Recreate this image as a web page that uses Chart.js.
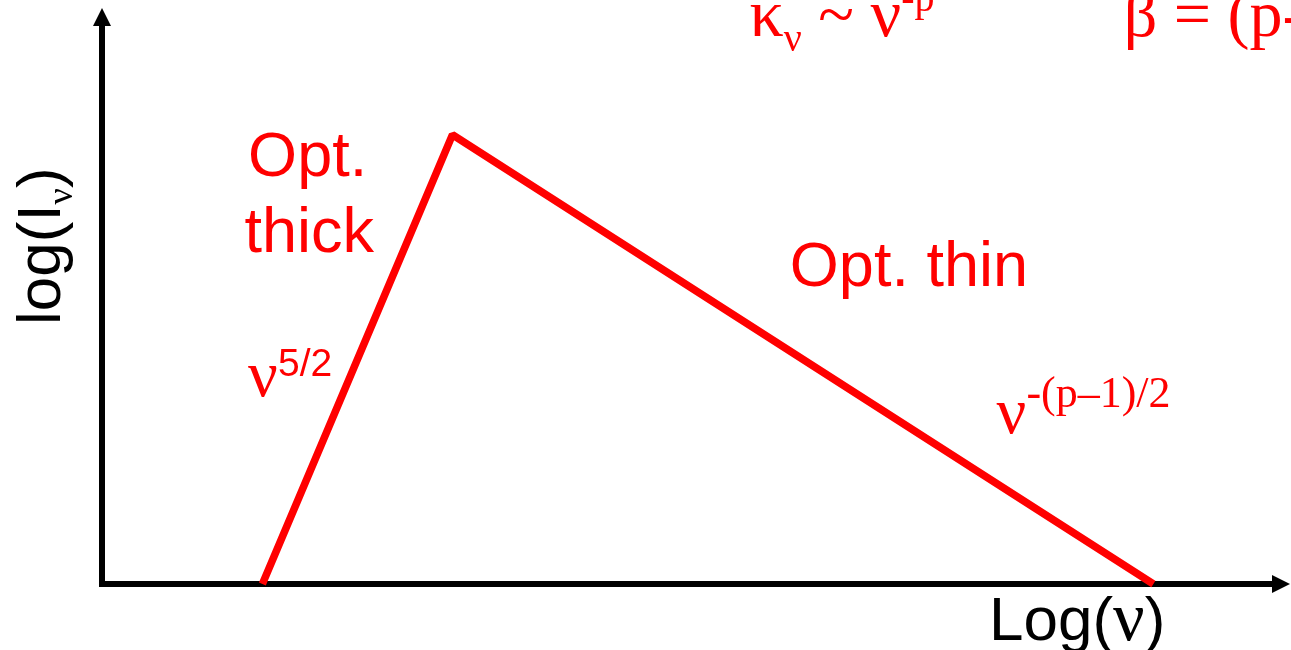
<!DOCTYPE html>
<html>
<head>
<meta charset="utf-8">
<script src="https://cdn.jsdelivr.net/npm/chart.js@4.4.0/dist/chart.umd.min.js"></script>
<style>
  html, body { margin: 0; padding: 0; background: #fff; overflow: hidden; }
</style>
</head>
<body>
<canvas id="c" width="1291" height="650"></canvas>
<script>
// broken power-law spectrum, arbitrary log units (0..100 on both axes)
const logNu = [13.5, 29.5, 88.5];
const logI = [0, 78, 0];

const SANS = '"Liberation Sans", Arial, sans-serif';
const SERIF = '"Liberation Serif", "Times New Roman", serif';
const RED = '#ff0000';

// text labels, anchored in data coordinates
const notes = [
  { x: 12.3, y: 70.8, runs: [{ t: 'Opt.', font: '63px ' + SANS }] },
  { x: 12.0, y: 57.6, runs: [{ t: 'thick', font: '63px ' + SANS }] },
  { x: 12.3, y: 32.6, runs: [{ t: 'ν', font: '66px ' + SERIF }, { t: '5/2', font: '39px ' + SANS, dy: -20 }] },
  { x: 57.9, y: 51.7, runs: [{ t: 'Opt. thin', font: '63px ' + SANS }] },
  { x: 75.3, y: 26.2, runs: [{ t: 'ν', font: '66px ' + SERIF }, { t: '-(p–1)/2', font: '44px ' + SERIF, dy: -26 }] },
  { x: 54.5, y: 95.1, runs: [
    { t: 'κ', font: '68px ' + SERIF },
    { t: 'ν', font: '40px ' + SERIF, dy: 15 },
    { t: ' ~ ', font: '66px ' + SERIF },
    { t: 'ν', font: '68px ' + SERIF },
    { t: '-p', font: '40px ' + SERIF, dy: -25 }
  ] },
  { x: 86.0, y: 95.1, runs: [{ t: 'β = (p-', font: '66px ' + SERIF }] }
];

function drawRuns(ctx, x, y, runs) {
  runs.forEach(r => {
    ctx.font = r.font;
    ctx.fillText(r.t, x, y + (r.dy || 0));
    x += ctx.measureText(r.t).width;
  });
}

const sketchPlugin = {
  id: 'sketch',
  beforeDatasetsDraw(chart) {
    const { ctx, chartArea: a } = chart;
    ctx.save();
    ctx.strokeStyle = '#000';
    ctx.fillStyle = '#000';
    ctx.lineWidth = 6;
    ctx.beginPath();
    ctx.moveTo(a.left, a.bottom + 3);
    ctx.lineTo(a.left, a.top + 16);
    ctx.moveTo(a.left - 3, a.bottom);
    ctx.lineTo(a.right - 16, a.bottom);
    ctx.stroke();
    // arrow heads
    ctx.beginPath();
    ctx.moveTo(a.left, a.top);
    ctx.lineTo(a.left - 9, a.top + 18);
    ctx.lineTo(a.left + 9, a.top + 18);
    ctx.closePath();
    ctx.fill();
    ctx.beginPath();
    ctx.moveTo(a.right, a.bottom);
    ctx.lineTo(a.right - 18, a.bottom - 9);
    ctx.lineTo(a.right - 18, a.bottom + 9);
    ctx.closePath();
    ctx.fill();

    // axis titles
    ctx.textBaseline = 'alphabetic';
    drawRuns(ctx, a.left + 887, a.bottom + 56, [
      { t: 'Log(', font: '62px ' + SANS },
      { t: 'ν', font: '70px ' + SERIF },
      { t: ')', font: '62px ' + SANS }
    ]);
    ctx.translate(a.left - 42, 325);
    ctx.rotate(-Math.PI / 2);
    drawRuns(ctx, 0, 0, [
      { t: 'log(I', font: '62px ' + SANS },
      { t: 'ν', font: '36px ' + SERIF, dy: 12 },
      { t: ')', font: '62px ' + SANS }
    ]);
    ctx.restore();
  },
  afterDatasetsDraw(chart) {
    const { ctx, scales } = chart;
    ctx.save();
    ctx.fillStyle = RED;
    ctx.textBaseline = 'alphabetic';
    notes.forEach(n => {
      drawRuns(ctx, scales.x.getPixelForValue(n.x), scales.y.getPixelForValue(n.y), n.runs);
    });
    ctx.restore();
  }
};

new Chart(document.getElementById('c'), {
  type: 'line',
  data: {
    datasets: [{
      data: logNu.map((v, i) => ({ x: v, y: logI[i] })),
      borderColor: RED,
      borderWidth: 7.5,
      borderJoinStyle: 'bevel',
      borderCapStyle: 'butt',
      pointRadius: 0,
      tension: 0,
      fill: false,
      clip: false
    }]
  },
  options: {
    responsive: false,
    animation: false,
    layout: { padding: { left: 102, right: 1, top: 8, bottom: 66 } },
    plugins: { legend: { display: false }, tooltip: { enabled: false } },
    scales: {
      x: { type: 'linear', min: 0, max: 100, display: false },
      y: { min: 0, max: 100, display: false }
    }
  },
  plugins: [sketchPlugin]
});
</script>
</body>
</html>
